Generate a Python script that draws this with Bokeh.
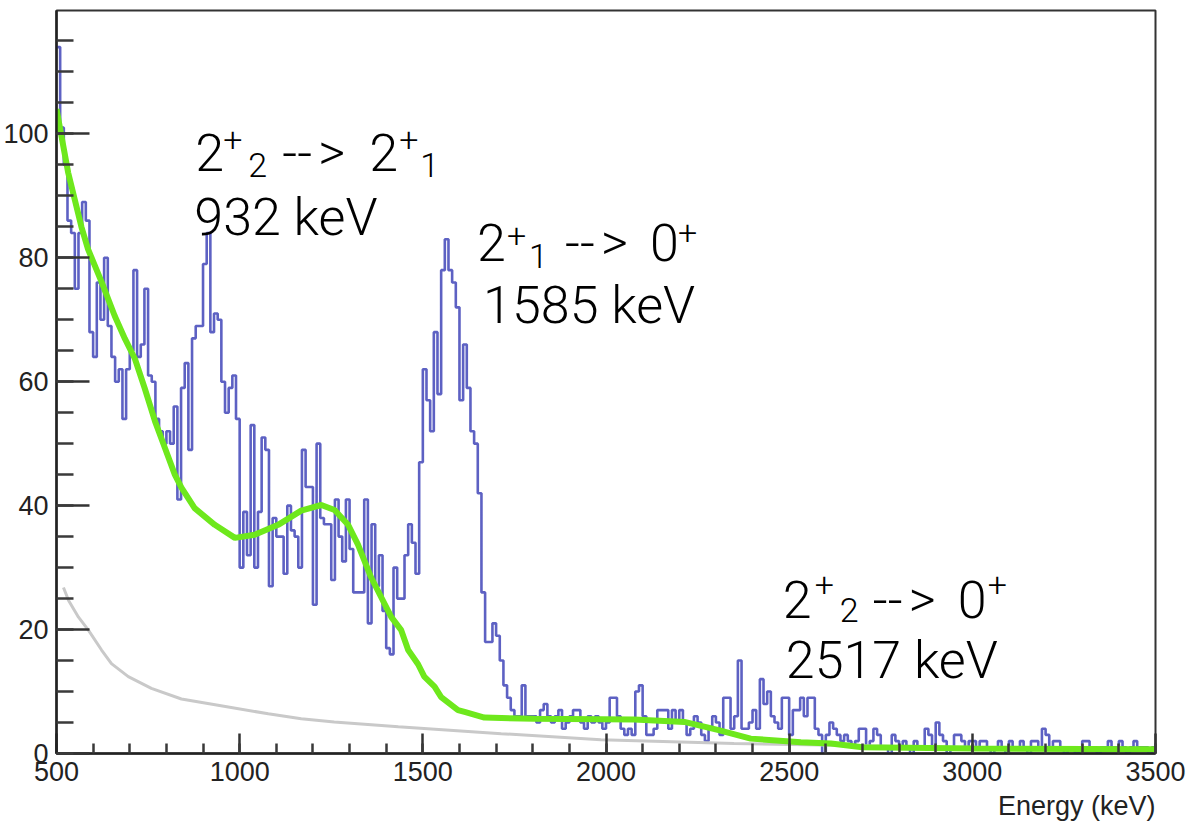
import numpy as np
from bokeh.plotting import figure
from bokeh.models import Range1d, SingleIntervalTicker, Label, Title
from bokeh.embed import file_html
from bokeh.resources import INLINE

# ---------------- data ----------------
bin_start = 500      # keV
bin_width = 10       # keV

counts_500_990 = [
    114, 101, 95, 86, 84, 75, 84, 89, 86, 68,
    64, 76, 70, 80, 69, 64, 60, 62, 54, 62,
    65, 78, 64, 66, 75, 61, 60, 54, 52, 50,
    52, 50, 56, 41, 59, 63, 49, 67, 69, 69,
    79, 84, 68, 71, 70, 60, 55, 59, 61, 54,
]
counts_1000_1490 = [
    30, 39, 32, 53, 30, 39, 51, 49, 27, 38,
    35, 35, 29, 40, 36, 35, 30, 49, 43, 43,
    24, 50, 38, 37, 37, 28, 41, 35, 31, 41,
    33, 26, 26, 26, 41, 21, 37, 27, 32, 23,
    17, 16, 30, 25, 25, 32, 37, 34, 29, 47,
]
counts_1500_1990 = [
    62, 57, 52, 68, 58, 78, 83, 78, 76, 72,
    57, 66, 59, 52, 50, 42, 26, 18, 18, 21,
    19, 15, 11, 9, 7, 6, 6, 11, 6, 6,
    6, 5, 7, 8, 6, 5, 6, 7, 4, 5,
    6, 7, 7, 5, 4, 6, 5, 6, 5, 4,
]
counts_2000_2490 = [
    5, 9, 9, 6, 4, 3, 4, 3, 10, 11,
    6, 3, 3, 4, 7, 7, 7, 4, 7, 5,
    7, 5, 3, 4, 6, 5, 3, 2, 4, 6,
    5, 3, 9, 9, 4, 6, 15, 4, 4, 5,
    7, 4, 12, 8, 10, 6, 5, 4, 9, 9,
]
counts_2500_2990 = [
    3, 7, 7, 9, 6, 9, 9, 4, 3, 0,
    3, 5, 4, 3, 2, 3, 2, 1, 2, 4,
    4, 1, 2, 4, 3, 1, 1, 0, 3, 2,
    1, 2, 1, 0, 2, 1, 1, 4, 3, 1,
    5, 3, 2, 0, 1, 3, 3, 2, 1, 2,
]
counts_3000_3490 = [
    2, 1, 2, 2, 1, 0, 1, 2, 1, 0,
    2, 1, 1, 2, 1, 0, 2, 2, 1, 4,
    3, 1, 2, 2, 1, 0, 1, 1, 0, 1,
    2, 2, 1, 1, 0, 1, 1, 2, 1, 1,
    2, 1, 0, 1, 2, 1, 1, 1, 0, 1,
]

# fitted total (green)
fit_energy = [500, 532, 568, 586, 623, 659, 687, 714, 741, 769, 796, 823, 841,
              877, 932, 987, 1041, 1105, 1168, 1223, 1259, 1296, 1323, 1359,
              1414, 1441, 1460, 1487, 1504, 1532, 1550, 1596, 1614, 1668, 1805,
              2077, 2214, 2305, 2395, 2532, 2614, 2700, 3000, 3500]
fit_counts = [104, 93.7, 85, 81.4, 76.1, 70.6, 66.9, 63.7, 58.9, 53.6, 49.3, 45,
              42.9, 39.6, 36.9, 34.8, 35.3, 36.9, 39.2, 40.1, 39.3, 36.9, 33.7,
              28.4, 22, 19.9, 16.7, 14.4, 12.4, 10.8, 9.1, 7.0, 6.7, 5.8, 5.6,
              5.5, 5.1, 3.8, 2.4, 1.8, 1.6, 1.0, 0.8, 0.7]

# background (grey)
bkg_energy = [519, 533, 560, 587, 623, 650, 696, 759, 841, 941, 1078, 1168,
              1258, 1433, 1714, 1986, 2349, 2668, 2805, 3500]
bkg_counts = [26.8, 24.7, 22.0, 19.9, 16.7, 14.5, 12.4, 10.5, 8.8, 7.8, 6.4,
              5.6, 5.1, 4.3, 3.2, 2.2, 1.6, 1.3, 1.1, 0.7]

x_ticks_interval = 500
y_ticks_interval = 20

# ---------------- figure ----------------
counts = np.array(counts_500_990 + counts_1000_1490 + counts_1500_1990 +
                  counts_2000_2490 + counts_2500_2990 + counts_3000_3490, float)
edges = bin_start + bin_width * np.arange(len(counts) + 1)
step_x = np.repeat(edges, 2)[1:-1]
step_y = np.repeat(counts, 2)

W, H = 1188, 825
FL, FR, FT, FB = 55, 1155, 10, 757   # frame pixel box
x0, x1 = 500, 3500
y0, y1 = 0, (FB - FT) / 6.23

p = figure(width=W, height=H, output_backend="svg", toolbar_location=None,
           x_range=Range1d(x0, x1), y_range=Range1d(y0, y1),
           min_border_left=FL, min_border_right=W - FR,
           min_border_top=FT, min_border_bottom=H - FB)
p.background_fill_color = "white"
p.border_fill_color = "white"
p.outline_line_color = "#333333"
p.outline_line_width = 2
p.xgrid.visible = False
p.ygrid.visible = False

FONT = "Liberation Sans"
ANNOT_FONT = "'Roboto Light', 'Lato Light', 'Open Sans Light', 'Liberation Sans'"

p.xaxis.ticker = SingleIntervalTicker(interval=x_ticks_interval, num_minor_ticks=5)
p.yaxis.ticker = SingleIntervalTicker(interval=y_ticks_interval, num_minor_ticks=4)
for ax in (p.xaxis[0], p.yaxis[0]):
    ax.axis_line_color = "#222222"
    ax.axis_line_width = 2.5
    ax.major_tick_line_color = "#333333"
    ax.minor_tick_line_color = "#3a3a3a"
    ax.major_tick_line_width = 2.5
    ax.minor_tick_line_width = 2.5
    ax.major_tick_out = 0
    ax.minor_tick_out = 0
    ax.major_label_text_font = FONT
    ax.major_label_text_font_size = "27px"
    ax.major_label_text_color = "#222222"
p.xaxis.major_tick_in = 20
p.xaxis.minor_tick_in = 10
p.yaxis.major_tick_in = 33
p.yaxis.minor_tick_in = 17
p.xaxis.major_label_standoff = 8
p.yaxis.major_label_standoff = 8

p.add_layout(Title(text="Energy (keV)", align="right", text_font=FONT,
                   text_font_size="27px", text_font_style="normal",
                   text_color="#222222", offset=0), "below")

p.line(step_x, step_y, line_color="#5458c0", line_width=2.6, line_alpha=0.95)
p.line(bkg_energy, bkg_counts, line_color="#c9c9c9", line_width=3)
p.line(fit_energy, fit_counts, line_color="#6ee81c", line_width=6)

# ---------------- annotations ----------------
def ex(px):
    return x0 + (px - FL) * (x1 - x0) / (FR - FL)

def vy(py):
    return (FB - py) / 6.23

def lab(px, py, txt, size):
    p.add_layout(Label(x=ex(px), y=vy(py), text=txt, text_font=ANNOT_FONT,
                       text_font_size=f"{size}px", text_color="black",
                       text_align="left", text_baseline="alphabetic"))

BIG, SMALL = 52, 34
# 2+2 --> 2+1 / 932 keV
lab(194, 153, "2", BIG); lab(222, 139, "+", SMALL); lab(247, 165, "2", SMALL)
lab(281, 153, "--", BIG); lab(317, 153, ">", BIG)
lab(368, 153, "2", BIG); lab(398, 139, "+", SMALL)
lab(419, 165, "1", SMALL)
lab(193, 218, "932 keV", BIG)
# 2+1 --> 0+ / 1585 keV
lab(476, 243, "2", BIG); lab(506, 236, "+", SMALL); lab(528, 257, "1", SMALL)
lab(564, 243, "--", BIG); lab(600, 243, ">", BIG)
lab(649, 243, "0", BIG); lab(677, 233, "+", SMALL)
lab(482, 307, "1585 keV", BIG)
# 2+2 --> 0+ / 2517 keV
lab(782, 602, "2", BIG); lab(814, 587, "+", SMALL); lab(839, 613, "2", SMALL)
lab(872, 602, "--", BIG); lab(908, 602, ">", BIG)
lab(957, 602, "0", BIG); lab(987, 587, "+", SMALL)
lab(785, 663, "2517 keV", BIG)

open("out.html", "w").write(file_html(p, INLINE))
